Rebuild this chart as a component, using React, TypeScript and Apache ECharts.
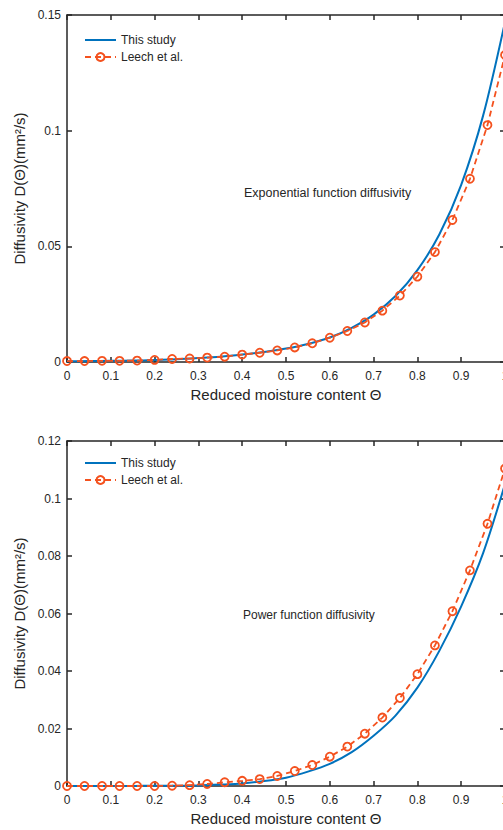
import React, { useEffect, useRef } from "react";
import * as echarts from "echarts";

// Reduced moisture content for the "Leech et al." markers
const thetaLeech = [0, 0.04, 0.08, 0.12, 0.16, 0.2, 0.24, 0.28, 0.32, 0.36, 0.4, 0.44, 0.48, 0.52, 0.56, 0.6, 0.64, 0.68, 0.72, 0.76, 0.8, 0.84, 0.88, 0.92, 0.96, 1.0];
// Exponential function diffusivity (mm^2/s), Leech et al.
const leechExp = [0.0004, 0.0004, 0.0005, 0.0005, 0.0006, 0.0009, 0.0013, 0.0015, 0.0019, 0.0023, 0.0032, 0.004, 0.005, 0.0063, 0.0081, 0.0105, 0.0134, 0.0171, 0.0222, 0.0287, 0.0369, 0.0475, 0.0614, 0.0792, 0.1024, 0.1327];
// Power function diffusivity (mm^2/s), Leech et al.
const leechPow = [0, 0, 0, 0, 0, 0, 0.0001, 0.0003, 0.0007, 0.0013, 0.0018, 0.0024, 0.0035, 0.0052, 0.0073, 0.0102, 0.0137, 0.0182, 0.0238, 0.0306, 0.0389, 0.0489, 0.0608, 0.075, 0.0912, 0.1104];

// Reduced moisture content for "This study" curves
const thetaStudy = [0, 0.05, 0.1, 0.15, 0.2, 0.25, 0.3, 0.35, 0.4, 0.45, 0.5, 0.55, 0.6, 0.65, 0.7, 0.75, 0.8, 0.85, 0.9, 0.95, 1.0];
const studyExp = [0.0003, 0.0004, 0.0005, 0.0006, 0.0009, 0.0012, 0.0017, 0.0023, 0.0032, 0.0043, 0.0058, 0.0078, 0.0106, 0.0148, 0.0205, 0.0285, 0.0397, 0.0551, 0.0766, 0.1065, 0.147];
const studyPow = [0, 0, 0, 0, 0.0001, 0.0001, 0.0002, 0.0005, 0.0009, 0.0017, 0.0029, 0.005, 0.0077, 0.0118, 0.0175, 0.0245, 0.0342, 0.047, 0.0625, 0.081, 0.105];

const seriesNames = ["This study", "Leech et al."];
const xTitle = "Reduced moisture content \u0398";
const yTitle = "Diffusivity D(\u0398)(mm\u00b2/s)";
const notes = ["Exponential function diffusivity", "Power function diffusivity"];

const BLUE = "#0072BD";
const ORANGE = "#F4511E";
const INK = "#262626";
const FONT = "'Liberation Sans', Arial, Helvetica, sans-serif";

const zip = (xs: number[], ys: number[]) => xs.map((x, i) => [x, ys[i]]);
const fmt = (v: number) => (v === 0 ? "0" : String(parseFloat(v.toFixed(3))));

function axisBase(extra: any) {
  return {
    type: "value",
    splitLine: { show: false },
    axisLine: { show: true, onZero: false, lineStyle: { color: INK, width: 1.5 } },
    axisTick: { show: true, inside: true, length: 5, lineStyle: { color: INK, width: 1.5 } },
    ...extra,
  };
}

export default function App() {
  const ref = useRef<HTMLDivElement>(null);
  useEffect(() => {
    if (!ref.current) return;
    const chart = echarts.init(ref.current, undefined, { renderer: "svg" });
    const xMain = (gi: number) =>
      axisBase({
        gridIndex: gi,
        min: 0,
        max: 1,
        interval: 0.1,
        position: "bottom",
        name: xTitle,
        nameLocation: "middle",
        nameGap: 25,
        nameTextStyle: { fontSize: 15, color: INK, fontFamily: FONT },
        axisLabel: { fontSize: 12, color: INK, margin: 8, formatter: fmt, fontFamily: FONT, hideOverlap: false },
      });
    const xTop = (gi: number) =>
      axisBase({ gridIndex: gi, min: 0, max: 1, interval: 0.1, position: "top", axisLabel: { show: false } });
    const yMain = (gi: number, max: number, interval: number) =>
      axisBase({
        gridIndex: gi,
        min: 0,
        max,
        interval,
        position: "left",
        name: yTitle,
        nameLocation: "middle",
        nameGap: 40,
        nameTextStyle: { fontSize: 15, color: INK, fontFamily: FONT },
        axisLabel: { fontSize: 12, color: INK, margin: 6, formatter: fmt, fontFamily: FONT },
      });
    const yRight = (gi: number, max: number, interval: number) =>
      axisBase({ gridIndex: gi, min: 0, max, interval, position: "right", axisLabel: { show: false } });

    const study = (xi: number, yi: number, data: number[]) => ({
      type: "line",
      name: seriesNames[0],
      xAxisIndex: xi,
      yAxisIndex: yi,
      data: zip(thetaStudy, data),
      symbol: "none",
      smooth: 0.3,
      lineStyle: { color: BLUE, width: 2 },
      itemStyle: { color: BLUE },
      z: 2,
    });
    const leech = (xi: number, yi: number, data: number[]) => ({
      type: "line",
      name: seriesNames[1],
      xAxisIndex: xi,
      yAxisIndex: yi,
      data: zip(thetaLeech, data),
      symbol: "circle",
      symbolSize: 8,
      showAllSymbol: true,
      lineStyle: { color: ORANGE, width: 1.8, type: [6, 4] },
      itemStyle: { color: "rgba(255,255,255,0)", borderColor: ORANGE, borderWidth: 1.8 },
      z: 3,
    });
    const legend = (top: number) => ({
      orient: "vertical",
      left: 84,
      top,
      padding: 0,
      itemWidth: 31,
      itemHeight: 10,
      itemGap: 3,
      selectedMode: false,
      data: [
        { name: seriesNames[0], itemStyle: { color: "rgba(0,0,0,0)", borderColor: "rgba(0,0,0,0)", borderWidth: 0 } },
        { name: seriesNames[1] },
      ],
      textStyle: { fontSize: 12, color: INK, fontFamily: FONT, lineHeight: 14 },
    });

    chart.setOption({
      animation: false,
      textStyle: { fontFamily: FONT },
      grid: [
        { left: 67, top: 15, width: 438, height: 347, outerBoundsMode: "none", containLabel: false },
        { left: 67, top: 441, width: 438, height: 345, outerBoundsMode: "none", containLabel: false },
      ],
      xAxis: [xMain(0), xTop(0), xMain(1), xTop(1)],
      yAxis: [yMain(0, 0.15, 0.05), yRight(0, 0.15, 0.05), yMain(1, 0.12, 0.02), yRight(1, 0.12, 0.02)],
      legend: [legend(33), legend(456)],
      graphic: [
        { type: "text", left: 244, top: 186, style: { text: notes[0], fontSize: 12.5, fill: INK, fontFamily: FONT } },
        { type: "text", left: 243, top: 609, style: { text: notes[1], fontSize: 12, fill: INK, fontFamily: FONT } },
      ],
      series: [study(0, 0, studyExp), leech(0, 0, leechExp), study(2, 2, studyPow), leech(2, 2, leechPow)],
    });
    return () => chart.dispose();
  }, []);
  return <div ref={ref} style={{ position: "absolute", left: 0, top: 0, width: 503, height: 830 }} />;
}
